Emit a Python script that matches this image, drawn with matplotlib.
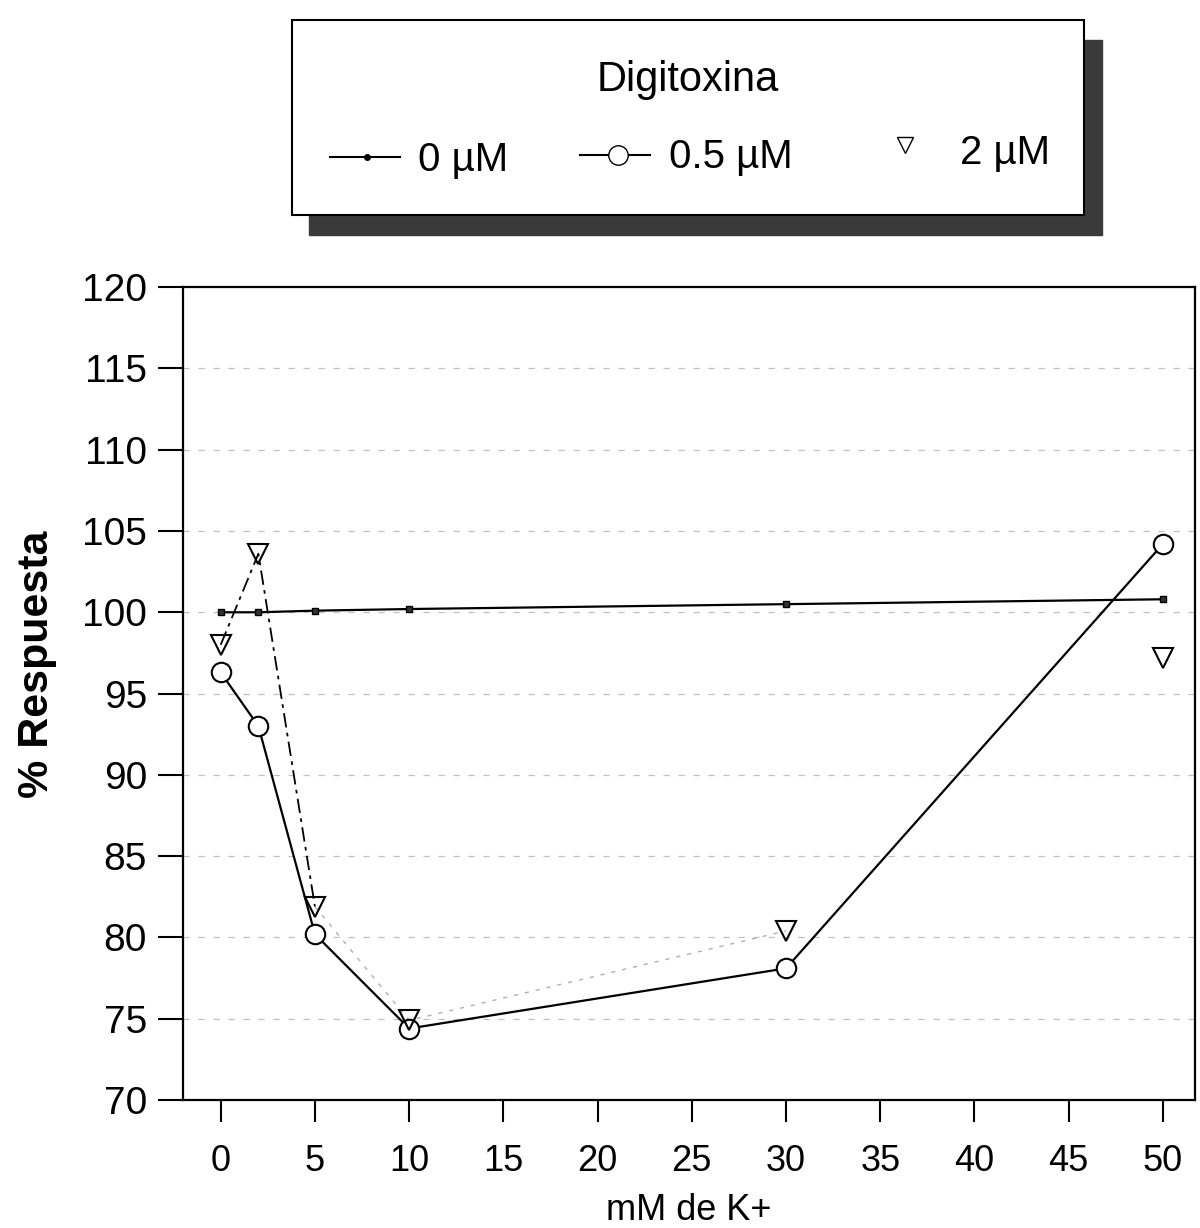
import matplotlib.pyplot as plt
from matplotlib.patches import Rectangle
from matplotlib.lines import Line2D

plt.rcParams['font.family'] = ['Liberation Sans', 'DejaVu Sans']

# mM de K+
k_conc = [0, 2, 5, 10, 30, 50]
# % respuesta para cada dosis de digitoxina
resp_0 = [100.0, 100.0, 100.1, 100.2, 100.5, 100.8]
resp_05 = [96.3, 93.0, 80.2, 74.4, 78.1, 104.2]
resp_2 = [98.0, 103.6, 81.9, 74.9, 80.4, 97.2]

x_ticks = [0, 5, 10, 15, 20, 25, 30, 35, 40, 45, 50]
y_ticks = [70, 75, 80, 85, 90, 95, 100, 105, 110, 115, 120]

fig = plt.figure(figsize=(12, 12.28), dpi=100)
ax = fig.add_axes([0.1525, 0.1042, 0.8433, 0.662])

ax.set_xlim(-2.0, 51.7)
ax.set_ylim(70, 120)

# grid faint like the scan
for y in y_ticks[1:-1]:
    ax.axhline(y, color='#c0c0c0', lw=0.9, ls=(0, (5, 7)), zorder=0)

# 0 uM
ax.plot(k_conc, resp_0, color='black', lw=1.6, marker='s', ms=4,
        markerfacecolor='#333333', zorder=3)

# 2 uM: dash-dot for first segments, faint afterwards
ax.plot(k_conc[:3], resp_2[:3], color='black', lw=1.3,
        ls=(0, (8, 3, 2, 3)), zorder=2)
ax.plot(k_conc[2:5], resp_2[2:5], color='#b0b0b0', lw=1.0,
        ls=(0, (3, 5)), zorder=2)

# 0.5 uM
ax.plot(k_conc, resp_05, color='black', lw=1.6, marker='o', ms=14,
        markerfacecolor='white', markeredgewidth=1.5, zorder=4)

# 2 uM markers
ax.plot(k_conc, resp_2, ls='none', marker='v', ms=15, color='black',
        markerfacecolor='none', markeredgewidth=1.5, zorder=5)

ax.set_xticks(x_ticks)
ax.set_yticks(y_ticks)
ax.tick_params(axis='y', direction='out', length=18, width=1.5, pad=8,
               labelsize=28)
ax.tick_params(axis='x', direction='out', length=16, width=1.5, pad=16,
               labelsize=26)
for s in ax.spines.values():
    s.set_linewidth(1.6)

ax.set_ylabel('% Respuesta', fontsize=31, fontweight='bold', labelpad=18)
ax.yaxis.label.set_y(0.536)
ax.set_xlabel('mM de K+', fontsize=26, labelpad=10)

# legend box drawn by hand
lg = fig.add_axes([0.243, 0.8249, 0.677, 0.1588])
lg.set_xlim(0, 1)
lg.set_ylim(0, 1)
lg.axis('off')
lg.add_patch(Rectangle((0.022, -0.103), 0.975, 1.0, color='#3a3a3a',
                       clip_on=False, zorder=1))
lg.add_patch(Rectangle((0.0, 0.0), 0.975, 1.0, facecolor='white',
                       edgecolor='black', lw=1.5, clip_on=False, zorder=2))
lg.text(0.488, 0.69, 'Digitoxina', ha='center', va='center', fontsize=30,
        zorder=3)
lg.add_line(Line2D([0.047, 0.093, 0.133], [0.30, 0.30, 0.30],
                   color='black', lw=1.5, marker='o', markevery=[1], ms=4,
                   zorder=3))
lg.text(0.156, 0.28, '0 µM', va='center', fontsize=29, zorder=3)
lg.add_line(Line2D([0.355, 0.402, 0.441], [0.31, 0.31, 0.31],
                   color='black', lw=1.5, marker='o', markevery=[1], ms=14,
                   markerfacecolor='white', zorder=3))
lg.text(0.464, 0.295, '0.5 µM', va='center', fontsize=29, zorder=3)
lg.plot([0.755], [0.36], ls='none', marker='v', ms=12, color='black',
        markerfacecolor='none', zorder=3)
lg.text(0.823, 0.32, '2 µM', va='center', fontsize=29, zorder=3)

fig.savefig('out.png', dpi=100)
